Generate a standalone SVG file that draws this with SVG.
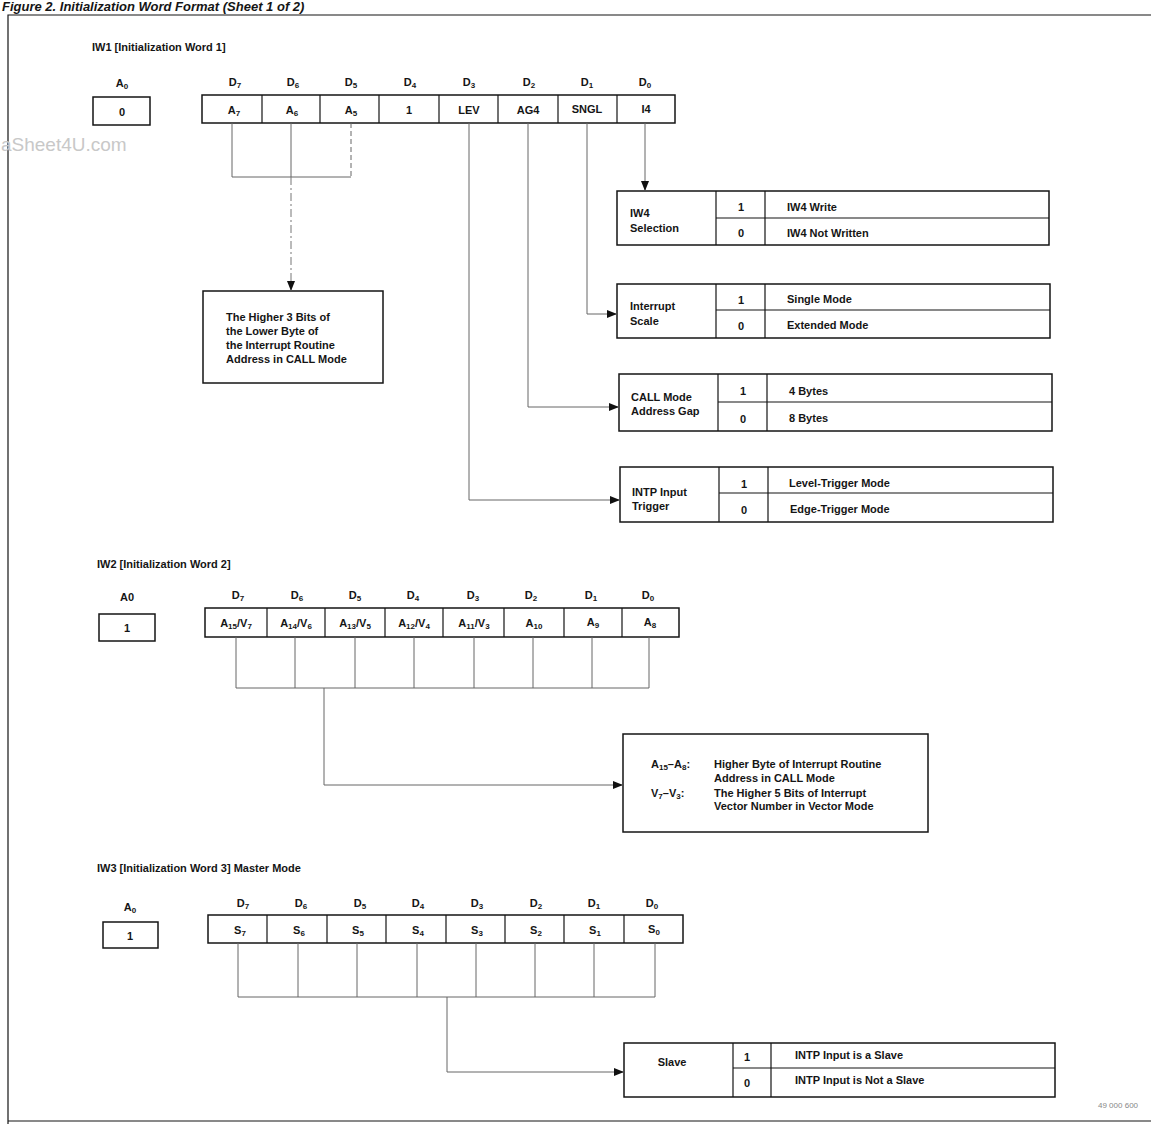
<svg xmlns="http://www.w3.org/2000/svg" width="1151" height="1124" viewBox="0 0 1151 1124">
<defs>
<marker id="ah" markerUnits="userSpaceOnUse" markerWidth="10" markerHeight="8" refX="10" refY="4" orient="auto">
<path d="M0,0 L10,4 L0,8 z" fill="#111"/>
</marker>
<style>
text{font-family:"Liberation Sans",Arial,Helvetica,sans-serif;font-weight:bold;font-size:11px;fill:#151515}
.m{text-anchor:middle}
.s{font-size:8px}
.bx{fill:#fff;stroke:#151515;stroke-width:1.5}
.dv{stroke:#151515;stroke-width:1.2;fill:none}
.ln{fill:none;stroke:#666;stroke-width:1}
.da{fill:none;stroke:#777;stroke-width:1;stroke-dasharray:8 3 2 3}
.wm{font-family:"Liberation Sans",Arial,sans-serif;font-weight:normal;font-size:19px;fill:#c8c8c8}
.ttl{font-size:13px;font-style:italic}
</style>
</defs>
<rect width="1151" height="1124" fill="#fff"/>

<!-- frame -->
<g id="frame">
<text class="ttl" x="2" y="11">Figure 2.  Initialization Word Format (Sheet 1 of 2)</text>
<path d="M8,1124 V15 H1151" class="dv" stroke-width="1.6"/>
<path d="M8,1121 H1151" class="dv" stroke-width="1.2"/>
<text class="wm" x="1" y="151">aSheet4U.com</text>
<text x="1098" y="1108" style="font-size:8px;font-weight:normal;fill:#888">49 000 600</text>
</g>

<!-- ===== IW1 ===== -->
<g id="iw1">
<text x="92" y="51">IW1 [Initialization Word 1]</text>
<g id="iw1-a0">
<text class="m" x="122" y="87">A<tspan class="s" dy="2">0</tspan></text>
<rect class="bx" x="93" y="97" width="57" height="28"/>
<text class="m" x="122" y="116">0</text>
</g>
<g id="iw1-reg">
<text class="m" x="235" y="86">D<tspan class="s" dy="2">7</tspan></text>
<text class="m" x="293" y="86">D<tspan class="s" dy="2">6</tspan></text>
<text class="m" x="351" y="86">D<tspan class="s" dy="2">5</tspan></text>
<text class="m" x="410" y="86">D<tspan class="s" dy="2">4</tspan></text>
<text class="m" x="469" y="86">D<tspan class="s" dy="2">3</tspan></text>
<text class="m" x="529" y="86">D<tspan class="s" dy="2">2</tspan></text>
<text class="m" x="587" y="86">D<tspan class="s" dy="2">1</tspan></text>
<text class="m" x="645" y="86">D<tspan class="s" dy="2">0</tspan></text>
<rect class="bx" x="202" y="95" width="473" height="28"/>
<path class="dv" d="M262,95V123M320,95V123M379,95V123M439,95V123M498,95V123M558,95V123M617,95V123"/>
<text class="m" x="234" y="114">A<tspan class="s" dy="2">7</tspan></text>
<text class="m" x="292" y="114">A<tspan class="s" dy="2">6</tspan></text>
<text class="m" x="351" y="114">A<tspan class="s" dy="2">5</tspan></text>
<text class="m" x="409" y="114">1</text>
<text class="m" x="469" y="114">LEV</text>
<text class="m" x="528" y="114">AG4</text>
<text class="m" x="587" y="113">SNGL</text>
<text class="m" x="646" y="113">I4</text>
</g>
<g id="iw1-lowbits">
<rect class="bx" x="203" y="291" width="180" height="92"/>
<text x="226" y="321">The Higher 3 Bits of</text>
<text x="226" y="335">the Lower Byte of</text>
<text x="226" y="349">the Interrupt Routine</text>
<text x="226" y="363">Address in CALL Mode</text>
</g>
<g id="iw4-sel">
<rect class="bx" x="617" y="191" width="432" height="54"/>
<path class="dv" d="M716,191V245M765,191V245M716,218H1049"/>
<text x="630" y="217">IW4</text>
<text x="630" y="232">Selection</text>
<text class="m" x="741" y="211">1</text>
<text x="787" y="211">IW4 Write</text>
<text class="m" x="741" y="237">0</text>
<text x="787" y="237">IW4 Not Written</text>
</g>
<g id="int-scale">
<rect class="bx" x="617" y="284" width="433" height="54"/>
<path class="dv" d="M716,284V338M765,284V338M716,310H1050"/>
<text x="630" y="310">Interrupt</text>
<text x="630" y="325">Scale</text>
<text class="m" x="741" y="304">1</text>
<text x="787" y="303">Single Mode</text>
<text class="m" x="741" y="330">0</text>
<text x="787" y="329">Extended Mode</text>
</g>
<g id="call-gap">
<rect class="bx" x="619" y="374" width="433" height="57"/>
<path class="dv" d="M718,374V431M767,374V431M718,402H1052"/>
<text x="631" y="401">CALL Mode</text>
<text x="631" y="415">Address Gap</text>
<text class="m" x="743" y="395">1</text>
<text x="789" y="395">4 Bytes</text>
<text class="m" x="743" y="423">0</text>
<text x="789" y="422">8 Bytes</text>
</g>
<g id="intp-trig">
<rect class="bx" x="620" y="467" width="433" height="55"/>
<path class="dv" d="M719,467V522M768,467V522M719,493H1053"/>
<text x="632" y="496">INTP Input</text>
<text x="632" y="510">Trigger</text>
<text class="m" x="744" y="488">1</text>
<text x="789" y="487">Level-Trigger Mode</text>
<text class="m" x="744" y="514">0</text>
<text x="790" y="513">Edge-Trigger Mode</text>
</g>
</g>

<!-- ===== IW2 ===== -->
<g id="iw2">
<text x="97" y="568">IW2 [Initialization Word 2]</text>
<g id="iw2-a0">
<text class="m" x="127" y="601">A0</text>
<rect class="bx" x="99" y="614" width="56" height="27"/>
<text class="m" x="127" y="632">1</text>
</g>
<g id="iw2-reg">
<text class="m" x="238" y="599">D<tspan class="s" dy="2">7</tspan></text>
<text class="m" x="297" y="599">D<tspan class="s" dy="2">6</tspan></text>
<text class="m" x="355" y="599">D<tspan class="s" dy="2">5</tspan></text>
<text class="m" x="413" y="599">D<tspan class="s" dy="2">4</tspan></text>
<text class="m" x="473" y="599">D<tspan class="s" dy="2">3</tspan></text>
<text class="m" x="531" y="599">D<tspan class="s" dy="2">2</tspan></text>
<text class="m" x="591" y="599">D<tspan class="s" dy="2">1</tspan></text>
<text class="m" x="648" y="599">D<tspan class="s" dy="2">0</tspan></text>
<rect class="bx" x="205" y="608" width="474" height="29"/>
<path class="dv" d="M267,608V637M325,608V637M385,608V637M443,608V637M504,608V637M564,608V637M622,608V637"/>
<text class="m" x="236" y="627">A<tspan class="s" dy="2">15</tspan><tspan dy="-2">/V</tspan><tspan class="s" dy="2">7</tspan></text>
<text class="m" x="296" y="627">A<tspan class="s" dy="2">14</tspan><tspan dy="-2">/V</tspan><tspan class="s" dy="2">6</tspan></text>
<text class="m" x="355" y="627">A<tspan class="s" dy="2">13</tspan><tspan dy="-2">/V</tspan><tspan class="s" dy="2">5</tspan></text>
<text class="m" x="414" y="627">A<tspan class="s" dy="2">12</tspan><tspan dy="-2">/V</tspan><tspan class="s" dy="2">4</tspan></text>
<text class="m" x="474" y="627">A<tspan class="s" dy="2">11</tspan><tspan dy="-2">/V</tspan><tspan class="s" dy="2">3</tspan></text>
<text class="m" x="534" y="627">A<tspan class="s" dy="2">10</tspan></text>
<text class="m" x="593" y="626">A<tspan class="s" dy="2">9</tspan></text>
<text class="m" x="650" y="626">A<tspan class="s" dy="2">8</tspan></text>
</g>
<g id="iw2-desc">
<rect class="bx" x="623" y="734" width="305" height="98"/>
<text x="651" y="768">A<tspan class="s" dy="2">15</tspan><tspan dy="-2">–A</tspan><tspan class="s" dy="2">8</tspan><tspan dy="-2">:</tspan></text>
<text x="714" y="768">Higher Byte of Interrupt Routine</text>
<text x="714" y="782">Address in CALL Mode</text>
<text x="651" y="797">V<tspan class="s" dy="2">7</tspan><tspan dy="-2">–V</tspan><tspan class="s" dy="2">3</tspan><tspan dy="-2">:</tspan></text>
<text x="714" y="797">The Higher 5 Bits of Interrupt</text>
<text x="714" y="810">Vector Number in Vector Mode</text>
</g>
</g>

<!-- ===== IW3 ===== -->
<g id="iw3">
<text x="97" y="872">IW3 [Initialization Word 3] Master Mode</text>
<g id="iw3-a0">
<text class="m" x="130" y="911">A<tspan class="s" dy="2">0</tspan></text>
<rect class="bx" x="103" y="922" width="55" height="26"/>
<text class="m" x="130" y="940">1</text>
</g>
<g id="iw3-reg">
<text class="m" x="243" y="907">D<tspan class="s" dy="2">7</tspan></text>
<text class="m" x="301" y="907">D<tspan class="s" dy="2">6</tspan></text>
<text class="m" x="360" y="907">D<tspan class="s" dy="2">5</tspan></text>
<text class="m" x="418" y="907">D<tspan class="s" dy="2">4</tspan></text>
<text class="m" x="477" y="907">D<tspan class="s" dy="2">3</tspan></text>
<text class="m" x="536" y="907">D<tspan class="s" dy="2">2</tspan></text>
<text class="m" x="594" y="907">D<tspan class="s" dy="2">1</tspan></text>
<text class="m" x="652" y="907">D<tspan class="s" dy="2">0</tspan></text>
<rect class="bx" x="208" y="915" width="475" height="28"/>
<path class="dv" d="M267,915V943M327,915V943M386,915V943M446,915V943M505,915V943M564,915V943M624,915V943"/>
<text class="m" x="240" y="934">S<tspan class="s" dy="2">7</tspan></text>
<text class="m" x="299" y="934">S<tspan class="s" dy="2">6</tspan></text>
<text class="m" x="358" y="934">S<tspan class="s" dy="2">5</tspan></text>
<text class="m" x="418" y="934">S<tspan class="s" dy="2">4</tspan></text>
<text class="m" x="477" y="934">S<tspan class="s" dy="2">3</tspan></text>
<text class="m" x="536" y="934">S<tspan class="s" dy="2">2</tspan></text>
<text class="m" x="595" y="934">S<tspan class="s" dy="2">1</tspan></text>
<text class="m" x="654" y="933">S<tspan class="s" dy="2">0</tspan></text>
</g>
<g id="slave">
<rect class="bx" x="624" y="1043" width="431" height="54"/>
<path class="dv" d="M733,1043V1097M771,1043V1097M733,1068H1055"/>
<text class="m" x="672" y="1066">Slave</text>
<text class="m" x="747" y="1061">1</text>
<text x="795" y="1059">INTP Input is a Slave</text>
<text class="m" x="747" y="1087">0</text>
<text x="795" y="1084">INTP Input is Not a Slave</text>
</g>
</g>

<!-- ===== connectors ===== -->
<g id="connectors">
<path class="ln" d="M232,123V177H351"/>
<path class="ln" d="M291,123V177"/>
<path class="ln" d="M351,123V177" stroke-dasharray="5 3"/>
<path class="da" d="M291,177V291" marker-end="url(#ah)"/>
<path class="ln" d="M469,123V500H620" marker-end="url(#ah)"/>
<path class="ln" d="M528,123V407H619" marker-end="url(#ah)"/>
<path class="ln" d="M587,123V314H617" marker-end="url(#ah)"/>
<path class="ln" d="M645,123V191" marker-end="url(#ah)"/>

<path class="ln" d="M236,637V688H649V637M295,637V688M355,637V688M414,637V688M474,637V688M533,637V688M592,637V688"/>
<path class="ln" d="M324,688V785H623" marker-end="url(#ah)"/>

<path class="ln" d="M238,943V997H655V943M298,943V997M357,943V997M417,943V997M476,943V997M535,943V997M594,943V997"/>
<path class="ln" d="M447,997V1072H624" marker-end="url(#ah)"/>
</g>
</svg>
